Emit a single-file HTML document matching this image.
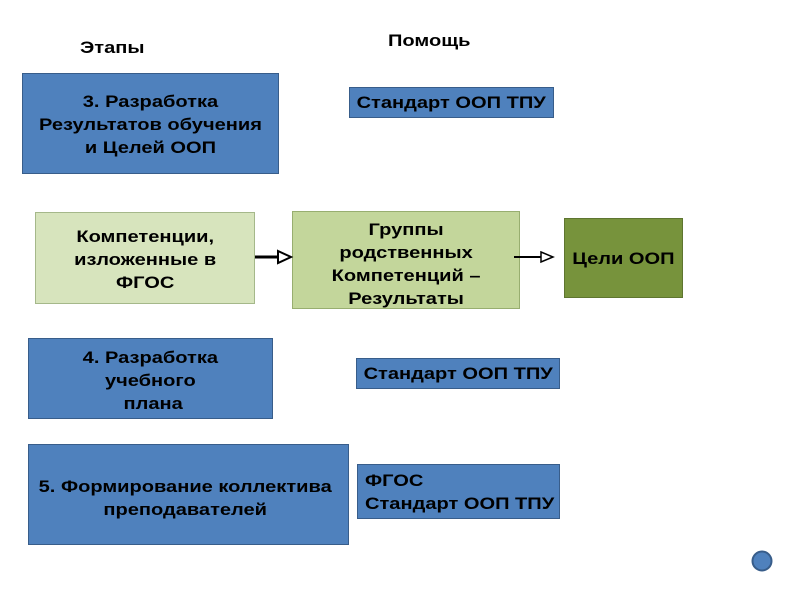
<!DOCTYPE html>
<html><head><meta charset="utf-8"><style>
body{margin:0;width:800px;height:600px;background:#fff;position:relative;font-family:"Liberation Sans",Arial,sans-serif;font-weight:bold;font-size:17px;color:#000;overflow:hidden}
.b{position:absolute;box-sizing:border-box;display:flex;align-items:center;justify-content:center;text-align:center;line-height:23px}
.b>span,.t>span{display:inline-block;transform:scaleX(1.18);transform-origin:center;white-space:nowrap}
.blue{background:#4f81bd;border:1px solid #385d8a}
.t{position:absolute}
.t>span{transform-origin:left}
</style></head><body>
<div class="t" style="left:80px;top:38px"><span>Этапы</span></div>
<div class="t" style="left:388px;top:31px"><span>Помощь</span></div>
<div class="b blue" style="left:22px;top:73px;width:257px;height:101px;padding-top:2px"><span>3. Разработка<br>Результатов обучения<br>и Целей ООП</span></div>
<div class="b blue" style="left:349px;top:87px;width:205px;height:31px"><span>Стандарт ООП ТПУ</span></div>
<div class="b" style="left:35px;top:212px;width:220px;height:92px;background:#d7e4bd;border:1px solid #a5b88a;padding-top:2px"><span>Компетенции,<br>изложенные в<br>ФГОС</span></div>
<div class="b" style="left:292px;top:211px;width:228px;height:98px;background:#c3d69b;border:1px solid #98ae70;padding-top:8px"><span>Группы<br>родственных<br>Компетенций –<br>Результаты</span></div>
<div class="b" style="left:564px;top:218px;width:119px;height:80px;background:#77933c;border:1px solid #5e7530"><span>Цели ООП</span></div>
<div class="b blue" style="left:28px;top:338px;width:245px;height:81px;padding-top:4px"><span>4. Разработка<br>учебного<br>&nbsp;плана</span></div>
<div class="b blue" style="left:356px;top:358px;width:204px;height:31px"><span>Стандарт ООП ТПУ</span></div>
<div class="b blue" style="left:28px;top:444px;width:321px;height:101px;padding-top:6px;padding-right:6px"><span>5. Формирование коллектива<br>преподавателей</span></div>
<div class="b blue" style="left:357px;top:464px;width:203px;height:55px;justify-content:flex-start;text-align:left;padding-left:7px"><span style="transform-origin:left">ФГОС<br>Стандарт ООП ТПУ</span></div>
<svg width="800" height="600" style="position:absolute;left:0;top:0">
<line x1="255" y1="257" x2="280" y2="257" stroke="#000" stroke-width="3"/>
<polygon points="278,251 291,257 278,263" fill="#fff" stroke="#000" stroke-width="2"/>
<line x1="514" y1="257" x2="542" y2="257" stroke="#000" stroke-width="2"/>
<polygon points="541,252 553,257 541,262" fill="#fff" stroke="#000" stroke-width="1.5"/>
<circle cx="762" cy="561" r="9.5" fill="#4f81bd" stroke="#385d8a" stroke-width="2"/>
</svg>
</body></html>
